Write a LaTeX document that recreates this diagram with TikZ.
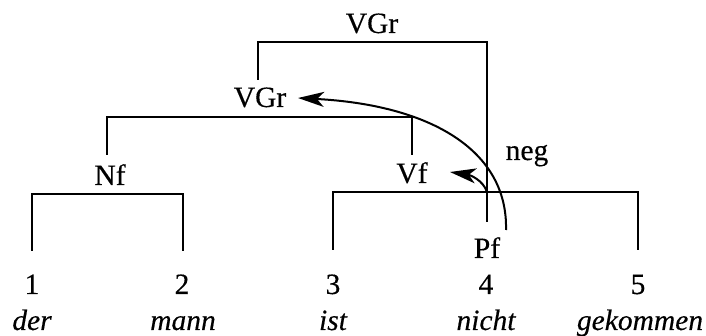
\documentclass[tikz,border=0pt]{standalone}
\usepackage{fontspec}
\setmainfont{Liberation Serif}[FakeBold=0.35]
\usetikzlibrary{arrows.meta}
\begin{document}
\begin{tikzpicture}[x=1pt,y=-1pt,
  lab/.style={anchor=base,inner sep=0pt,font=\fontsize{29.5}{35}\selectfont},
  word/.style={anchor=base,inner sep=0pt,font=\fontsize{29.5}{35}\selectfont\itshape},
  br/.style={line width=2.2pt,line join=miter},
  arr/.style={line width=2pt,-{Stealth[length=26pt,width=15pt,inset=7pt]}}]
\useasboundingbox (0,0) rectangle (706,336);
% labels
\node[lab] (vgr1) at (372,33) {VGr};
\node[lab] (vgr2) at (260,107) {VGr};
\node[lab] (nf) at (110,185) {Nf};
\node[lab] (vf) at (412,183) {Vf};
\node[lab] (pf) at (487,258) {Pf};
\node[lab] (neg) at (527,160) {neg};
\node[lab] (n1) at (32,294) {1};
\node[lab] (n2) at (182,294) {2};
\node[lab] (n3) at (333,294) {3};
\node[lab] (n4) at (486,294) {4};
\node[lab] (n5) at (638,294) {5};
\node[word] (w1) at (32,330) {der};
\node[word] (w2) at (183,330) {mann};
\node[word] (w3) at (333,330) {ist};
\node[word] (w4) at (486,330) {nicht};
\node[word] (w5) at (640,330) {gekommen};
% leg ends and bracket levels
\coordinate (vgr2up) at (258,80);
\coordinate (vgr1bar) at (372,42);
\coordinate (pfup) at (487,222);
\coordinate (nfup) at (107,155);
\coordinate (vgr2bar) at (260,117);
\coordinate (vfup) at (412,155);
\coordinate (n1up) at (32,251);
\coordinate (nfbar) at (110,194);
\coordinate (n2up) at (183,251);
\coordinate (n3up) at (333,250);
\coordinate (vfbar) at (412,192);
\coordinate (n5up) at (638,250);
% brackets
\draw[br] (vgr2up) |- (vgr1bar) -| (pfup);
\draw[br] (nfup) |- (vgr2bar) -| (vfup);
\draw[br] (n1up) |- (nfbar) -| (n2up);
\draw[br] (n3up) |- (vfbar) -| (n5up);
% arrows
\coordinate (negstart) at (506,230);
\coordinate (vgrtip) at (298,98);
\coordinate (vfstart) at (487,192);
\coordinate (vftip) at (450,172);
\draw[arr] (negstart) .. controls (508,150) and (430,105) .. (vgrtip);
\draw[arr] (vfstart) .. controls (483,180) and (470,175) .. (vftip);
\end{tikzpicture}
\end{document}
